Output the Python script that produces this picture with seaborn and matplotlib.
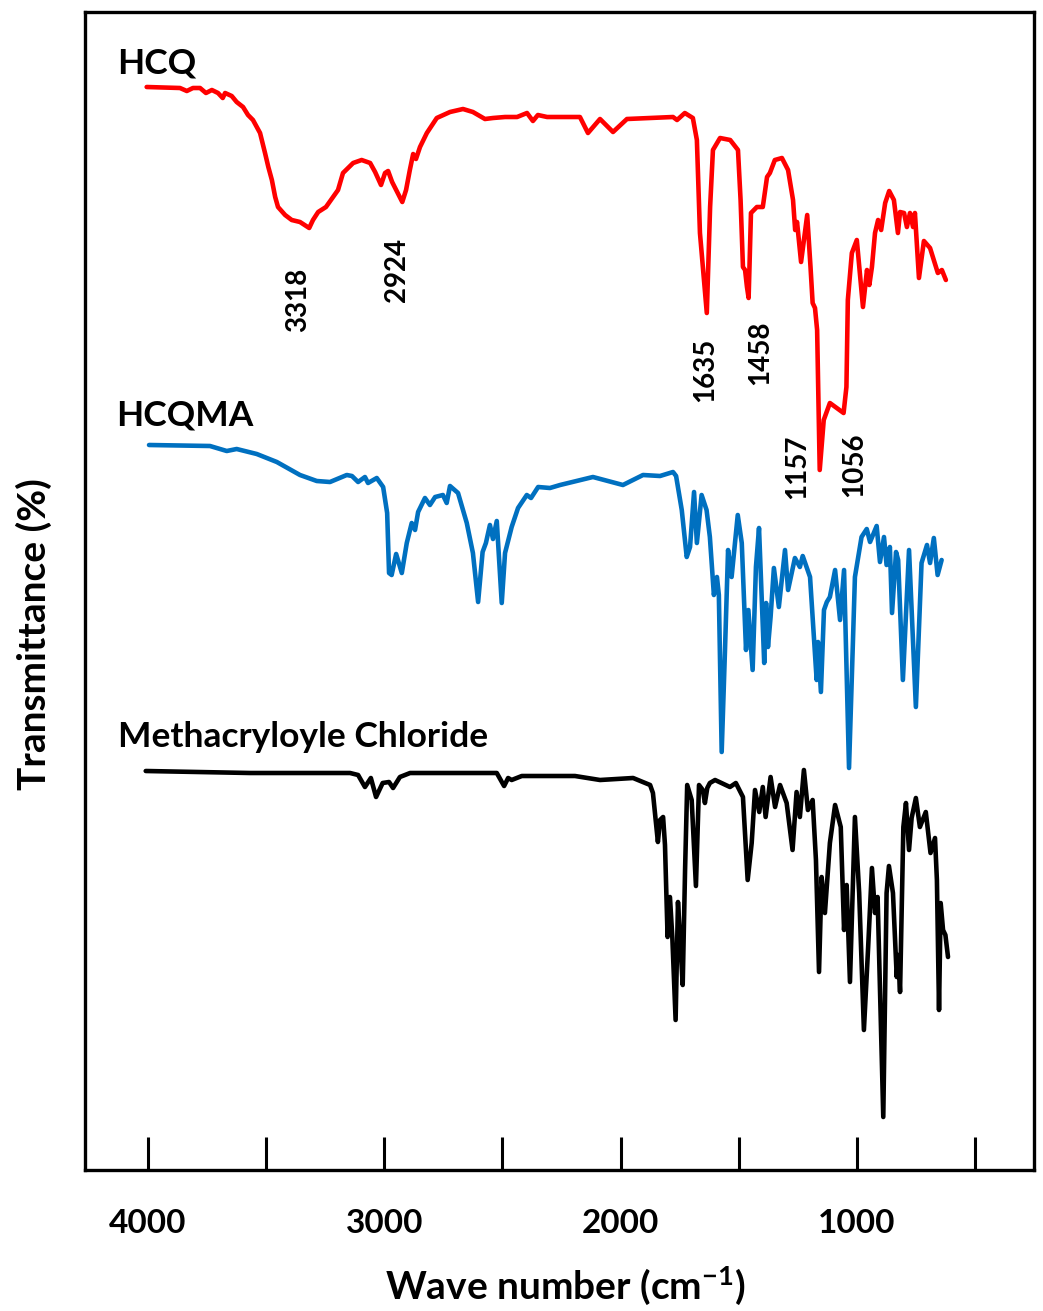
import matplotlib
matplotlib.use("Agg")
import matplotlib.pyplot as plt
import pandas as pd
import seaborn as sns

# FTIR spectra: wavenumber (cm^-1) and stacked transmittance (offset, arbitrary units)
hcq_wn = [4006, 3865, 3836, 3810, 3780, 3755, 3730, 3704, 3684, 3674, 3646, 3625,
          3598, 3577, 3556, 3526, 3505, 3491, 3476, 3462, 3450, 3420, 3392, 3357, 3318, 3302,
          3280, 3247, 3217, 3196, 3175, 3132, 3096, 3060, 3039, 3014, 2997, 2984,
          2967, 2924, 2908, 2892, 2878, 2866, 2849, 2820, 2778, 2722, 2667, 2625,
          2574, 2540, 2489, 2438, 2396, 2371, 2350, 2311, 2256, 2172, 2138, 2087,
          2032, 1973, 1778, 1761, 1728, 1694, 1677, 1664, 1635, 1621, 1609, 1579,
          1536, 1503, 1492, 1482, 1473, 1465, 1458, 1448, 1423, 1398, 1380, 1368,
          1347, 1317, 1291, 1270, 1261, 1253, 1236, 1210, 1196, 1187, 1177, 1168,
          1157, 1140, 1114, 1085, 1056, 1044, 1038, 1021, 1000, 974, 957, 947,
          936, 923, 910, 897, 880, 863, 843, 826, 817, 800, 788, 775, 762, 754,
          737, 716, 690, 657, 640, 623]
hcq_t = [108.3, 108.2, 107.9, 108.2, 108.2, 107.7, 108.0, 107.7, 107.2, 107.7, 107.4, 106.8,
         106.3, 105.5, 105.0, 103.7, 101.7, 100.3, 99.0, 97.3, 96.3, 95.5, 95.0, 94.8, 94.2, 95.0,
         95.8, 96.3, 97.3, 98.0, 99.7, 100.7, 101.0, 100.7, 99.8, 98.5, 99.7, 99.9,
         98.8, 96.8, 98.0, 100.0, 101.6, 101.1, 102.3, 103.7, 105.2, 105.8, 106.1, 105.8,
         105.1, 105.2, 105.3, 105.3, 105.7, 104.9, 105.5, 105.3, 105.3, 105.3, 103.7, 105.1,
         103.8, 105.1, 105.3, 105.0, 105.7, 105.2, 103.0, 93.7, 85.7, 96.3, 102.0, 103.2,
         103.0, 102.0, 97.0, 90.3, 90.0, 88.3, 87.2, 95.7, 96.3, 96.3, 99.3, 99.7,
         101.0, 101.2, 100.0, 97.0, 94.0, 94.8, 90.8, 95.5, 90.3, 86.7, 86.2, 84.0,
         70.0, 75.0, 76.7, 76.2, 75.7, 78.3, 87.0, 91.7, 93.0, 86.3, 90.0, 88.5,
         90.3, 93.7, 95.0, 94.0, 96.7, 97.9, 97.0, 93.7, 95.8, 95.7, 94.3, 95.7, 94.3, 95.7,
         89.2, 92.9, 92.2, 89.7, 90.0, 89.0]

hcqma_wn = [3996, 3738, 3667, 3625, 3540, 3455, 3357, 3286, 3230, 3159, 3137, 3111,
            3082, 3069, 3032, 3005, 2988, 2980, 2969, 2950, 2926, 2905, 2884, 2870,
            2857, 2828, 2807, 2785, 2752, 2736, 2722, 2688, 2651, 2625, 2603, 2584,
            2570, 2553, 2540, 2524, 2503, 2489, 2461, 2434, 2397, 2379, 2349, 2299,
            2256, 2117, 1990, 1905, 1833, 1778, 1765, 1741, 1720, 1706, 1689, 1677,
            1657, 1636, 1622, 1605, 1592, 1584, 1572, 1558, 1545, 1530, 1504, 1487,
            1469, 1459, 1441, 1427, 1414, 1392, 1384, 1376, 1365, 1351, 1330, 1304,
            1291, 1262, 1241, 1229, 1198, 1170, 1164, 1152, 1139, 1127, 1114, 1092,
            1071, 1054, 1033, 1008, 980, 958, 944, 916, 902, 885, 874, 860,
            851, 834, 825, 805, 779, 750, 726, 703, 690, 674, 658, 641]
hcqma_t = [72.5, 72.4, 71.9, 72.1, 71.6, 70.8, 69.5, 68.9, 68.8, 69.5, 69.4, 68.8,
           69.3, 68.7, 69.2, 68.3, 65.7, 59.7, 59.5, 61.6, 59.7, 62.7, 64.7, 64.0,
           65.8, 67.2, 66.5, 67.3, 67.5, 66.7, 68.4, 67.7, 64.7, 61.7, 56.8, 61.8,
           62.7, 64.5, 63.1, 64.9, 56.7, 61.7, 64.3, 66.2, 67.5, 67.2, 68.3, 68.2,
           68.5, 69.3, 68.5, 69.5, 69.4, 69.8, 69.4, 66.0, 61.3, 62.3, 67.8, 62.7,
           67.5, 66.0, 63.3, 57.5, 59.3, 57.5, 41.8, 52.0, 62.0, 59.3, 65.5, 62.7,
           52.0, 56.0, 50.0, 60.3, 64.2, 50.7, 56.7, 52.3, 55.3, 60.2, 56.3, 62.0,
           58.0, 61.2, 60.3, 61.4, 59.3, 49.0, 52.8, 47.8, 56.0, 56.8, 57.3, 60.0,
           55.0, 60.0, 40.2, 59.3, 63.3, 64.1, 62.8, 64.4, 60.8, 63.3, 60.5, 62.3,
           55.7, 61.8, 61.0, 49.0, 62.0, 46.3, 60.7, 62.5, 60.7, 63.2, 59.5, 61.0]

mac_wn = [4010, 3568, 3145, 3111, 3082, 3057, 3035, 3007, 2980, 2963, 2934, 2891,
          2524, 2493, 2476, 2461, 2418, 2193, 2087, 1947, 1875, 1863, 1842, 1833,
          1820, 1812, 1801, 1791, 1781, 1767, 1757, 1746, 1737, 1727, 1718, 1699,
          1681, 1668, 1652, 1643, 1633, 1622, 1600, 1537, 1512, 1482, 1462, 1445,
          1431, 1413, 1398, 1386, 1365, 1346, 1325, 1297, 1272, 1255, 1241, 1224,
          1207, 1187, 1173, 1160, 1149, 1135, 1114, 1092, 1068, 1054, 1043, 1029,
          1008, 990, 970, 952, 936, 923, 912, 888, 874, 864, 847, 831,
          825, 817, 803, 792, 779, 768, 750, 733, 708, 688, 669, 661,
          652, 645, 635, 625, 614]
mac_t = [39.9, 39.7, 39.7, 39.5, 38.3, 39.2, 37.3, 38.7, 38.8, 38.2, 39.3, 39.7,
         39.7, 38.4, 39.2, 39.0, 39.4, 39.4, 39.0, 39.2, 38.5, 37.7, 32.8, 35.0,
         35.3, 32.5, 23.3, 27.3, 23.3, 15.0, 26.8, 22.3, 18.5, 30.0, 38.5, 37.0,
         28.4, 38.5, 38.0, 36.7, 38.2, 38.7, 39.0, 38.3, 38.7, 37.3, 29.0, 32.7,
         38.0, 35.8, 38.3, 35.3, 39.3, 36.3, 38.5, 36.7, 32.0, 37.8, 35.3, 40.0,
         36.0, 37.0, 31.0, 19.8, 29.3, 25.7, 32.7, 36.5, 34.3, 24.0, 28.5, 18.8,
         35.3, 27.7, 14.0, 22.3, 30.2, 25.7, 27.3, 5.3, 27.7, 30.4, 27.7, 19.3,
         21.5, 17.8, 34.3, 36.7, 32.0, 35.2, 37.2, 34.3, 35.8, 31.7, 33.2, 29.0,
         16.0, 26.7, 24.0, 23.5, 21.3]

series_names = ["HCQ", "HCQMA", "Methacryloyle Chloride"]
series_colors = ["#FF0000", "#0070C0", "#000000"]
series_label_xy = [(4131, 109.6), (4135, 74.5), (4127, 42.3)]

# assigned HCQ bands
peak_wn = [3318, 2924, 1635, 1458, 1157, 1056]
peak_label_y = [87.0, 90.0, 80.0, 81.7, 70.3, 70.5]
peak_label_dx = [-7.7, -4.0, -1.5, 8.2, -16.1, 7.4]

tick_values = [4000, 3500, 3000, 2500, 2000, 1500, 1000, 500]
tick_labels = ["4000", "", "3000", "", "2000", "", "1000", ""]

sns.set_theme(style="white")
plt.rcParams["font.family"] = ["Lato", "DejaVu Sans"]
plt.rcParams["font.weight"] = "bold"
plt.rcParams["text.color"] = "black"
plt.rcParams["axes.labelcolor"] = "black"
plt.rcParams["mathtext.fontset"] = "custom"
plt.rcParams["mathtext.rm"] = "Lato:bold"
plt.rcParams["mathtext.bf"] = "Lato:bold"
plt.rcParams["mathtext.it"] = "Lato:bold"

frames = []
for name, wn, t in zip(series_names,
                       [hcq_wn, hcqma_wn, mac_wn],
                       [hcq_t, hcqma_t, mac_t]):
    frames.append(pd.DataFrame({"wavenumber": wn, "transmittance": t, "sample": name}))
spectra = pd.concat(frames, ignore_index=True)

fig = plt.figure(figsize=(10.43, 13.11), dpi=100)
ax = fig.add_axes([85 / 1043, 1 - 1170 / 1311, 949 / 1043, 1158 / 1311])

sns.lineplot(data=spectra, x="wavenumber", y="transmittance", hue="sample",
             hue_order=series_names, palette=series_colors, estimator=None,
             sort=False, linewidth=3.3, legend=False, ax=ax)
for line in ax.get_lines():
    line.set_solid_joinstyle("round")
    line.set_solid_capstyle("round")

for name, (x, y) in zip(series_names, series_label_xy):
    ax.text(x, y, name, fontsize=25.5, fontweight="bold", ha="left",
            va="baseline", color="black")

for wn, y, dx in zip(peak_wn, peak_label_y, peak_label_dx):
    ax.annotate(str(wn), xy=(wn, y), xytext=(dx, 0), textcoords="offset points",
                rotation=90, ha="center", va="center", fontsize=20,
                fontweight="bold", color="black")

ax.set_xlim(4267, 250)
ax.set_ylim(0, 115.8)
ax.set_yticks([])
ax.set_xticks(tick_values)
ax.set_xticklabels(tick_labels)
ax.tick_params(axis="x", direction="in", length=24, width=2.2, pad=28,
               labelsize=24, colors="black", labelcolor="black",
               bottom=True, top=False)
for lab in ax.get_xticklabels():
    lab.set_fontweight("bold")

for spine in ax.spines.values():
    spine.set_visible(True)
    spine.set_color("black")
    spine.set_linewidth(2.4)

ax.set_xlabel(r"Wave number (cm$^{-1}$)", fontsize=28, fontweight="bold",
              color="black")
ax.xaxis.set_label_coords(0.5063, -0.081)
ax.set_ylabel("Transmittance (%)", fontsize=28, fontweight="bold", color="black")
ax.yaxis.label.set_verticalalignment("center")
ax.yaxis.set_label_coords(-0.0537, 0.463)

fig.savefig("out.png", dpi=100)
